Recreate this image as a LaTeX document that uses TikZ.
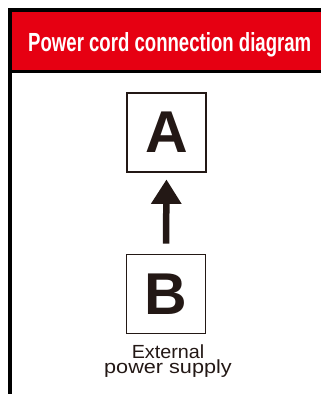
\documentclass[tikz,border=0pt]{standalone}
\usepackage{fontspec}
\setmainfont{Liberation Sans}
\usetikzlibrary{arrows.meta}
\definecolor{hdrred}{HTML}{E60012}
\definecolor{ink}{HTML}{231815}
\tikzset{
  letterbox/.style={draw=ink, line width=1.8pt, minimum size=79pt, inner sep=0pt,
    text=ink, font=\fontsize{59pt}{60pt}\selectfont\bfseries},
  labeltext/.style={text=ink, inner sep=0pt, align=center, font=\fontsize{19pt}{14.5pt}\selectfont},
  bigarrow/.style={draw=ink, line width=6.5pt, -{Triangle[length=24.5pt,width=29pt]}}
}
\begin{document}
\begin{tikzpicture}[x=1pt,y=-1pt]
\useasboundingbox (0,0) rectangle (321,394);
% outer frame
\fill[black] (8,8) rectangle (340,12);
\fill[black] (8,8) rectangle (12,410);
% header
\fill[hdrred] (12,12) rectangle (340,70);
\fill[black] (12,70) rectangle (340,73);
\node[anchor=base west, inner sep=0pt, text=white] (title) at (28,51)
  {\resizebox{283pt}{19pt}{\fontsize{26pt}{26pt}\selectfont\bfseries Power cord connection diagram}};
% boxes
\node[letterbox] (A) at (166.5,132.5) {A};
\node[letterbox] (B) at (166,294) {B};
% arrow
\draw[bigarrow, shorten >=6.5pt, shorten <=10pt] (B.north) -- (A.south);
% label
\node[labeltext, anchor=north] (ext) at (168,345)
  {\scalebox{1.04}[1]{External}\\\scalebox{1.14}[1]{power supply}};
\end{tikzpicture}
\end{document}
